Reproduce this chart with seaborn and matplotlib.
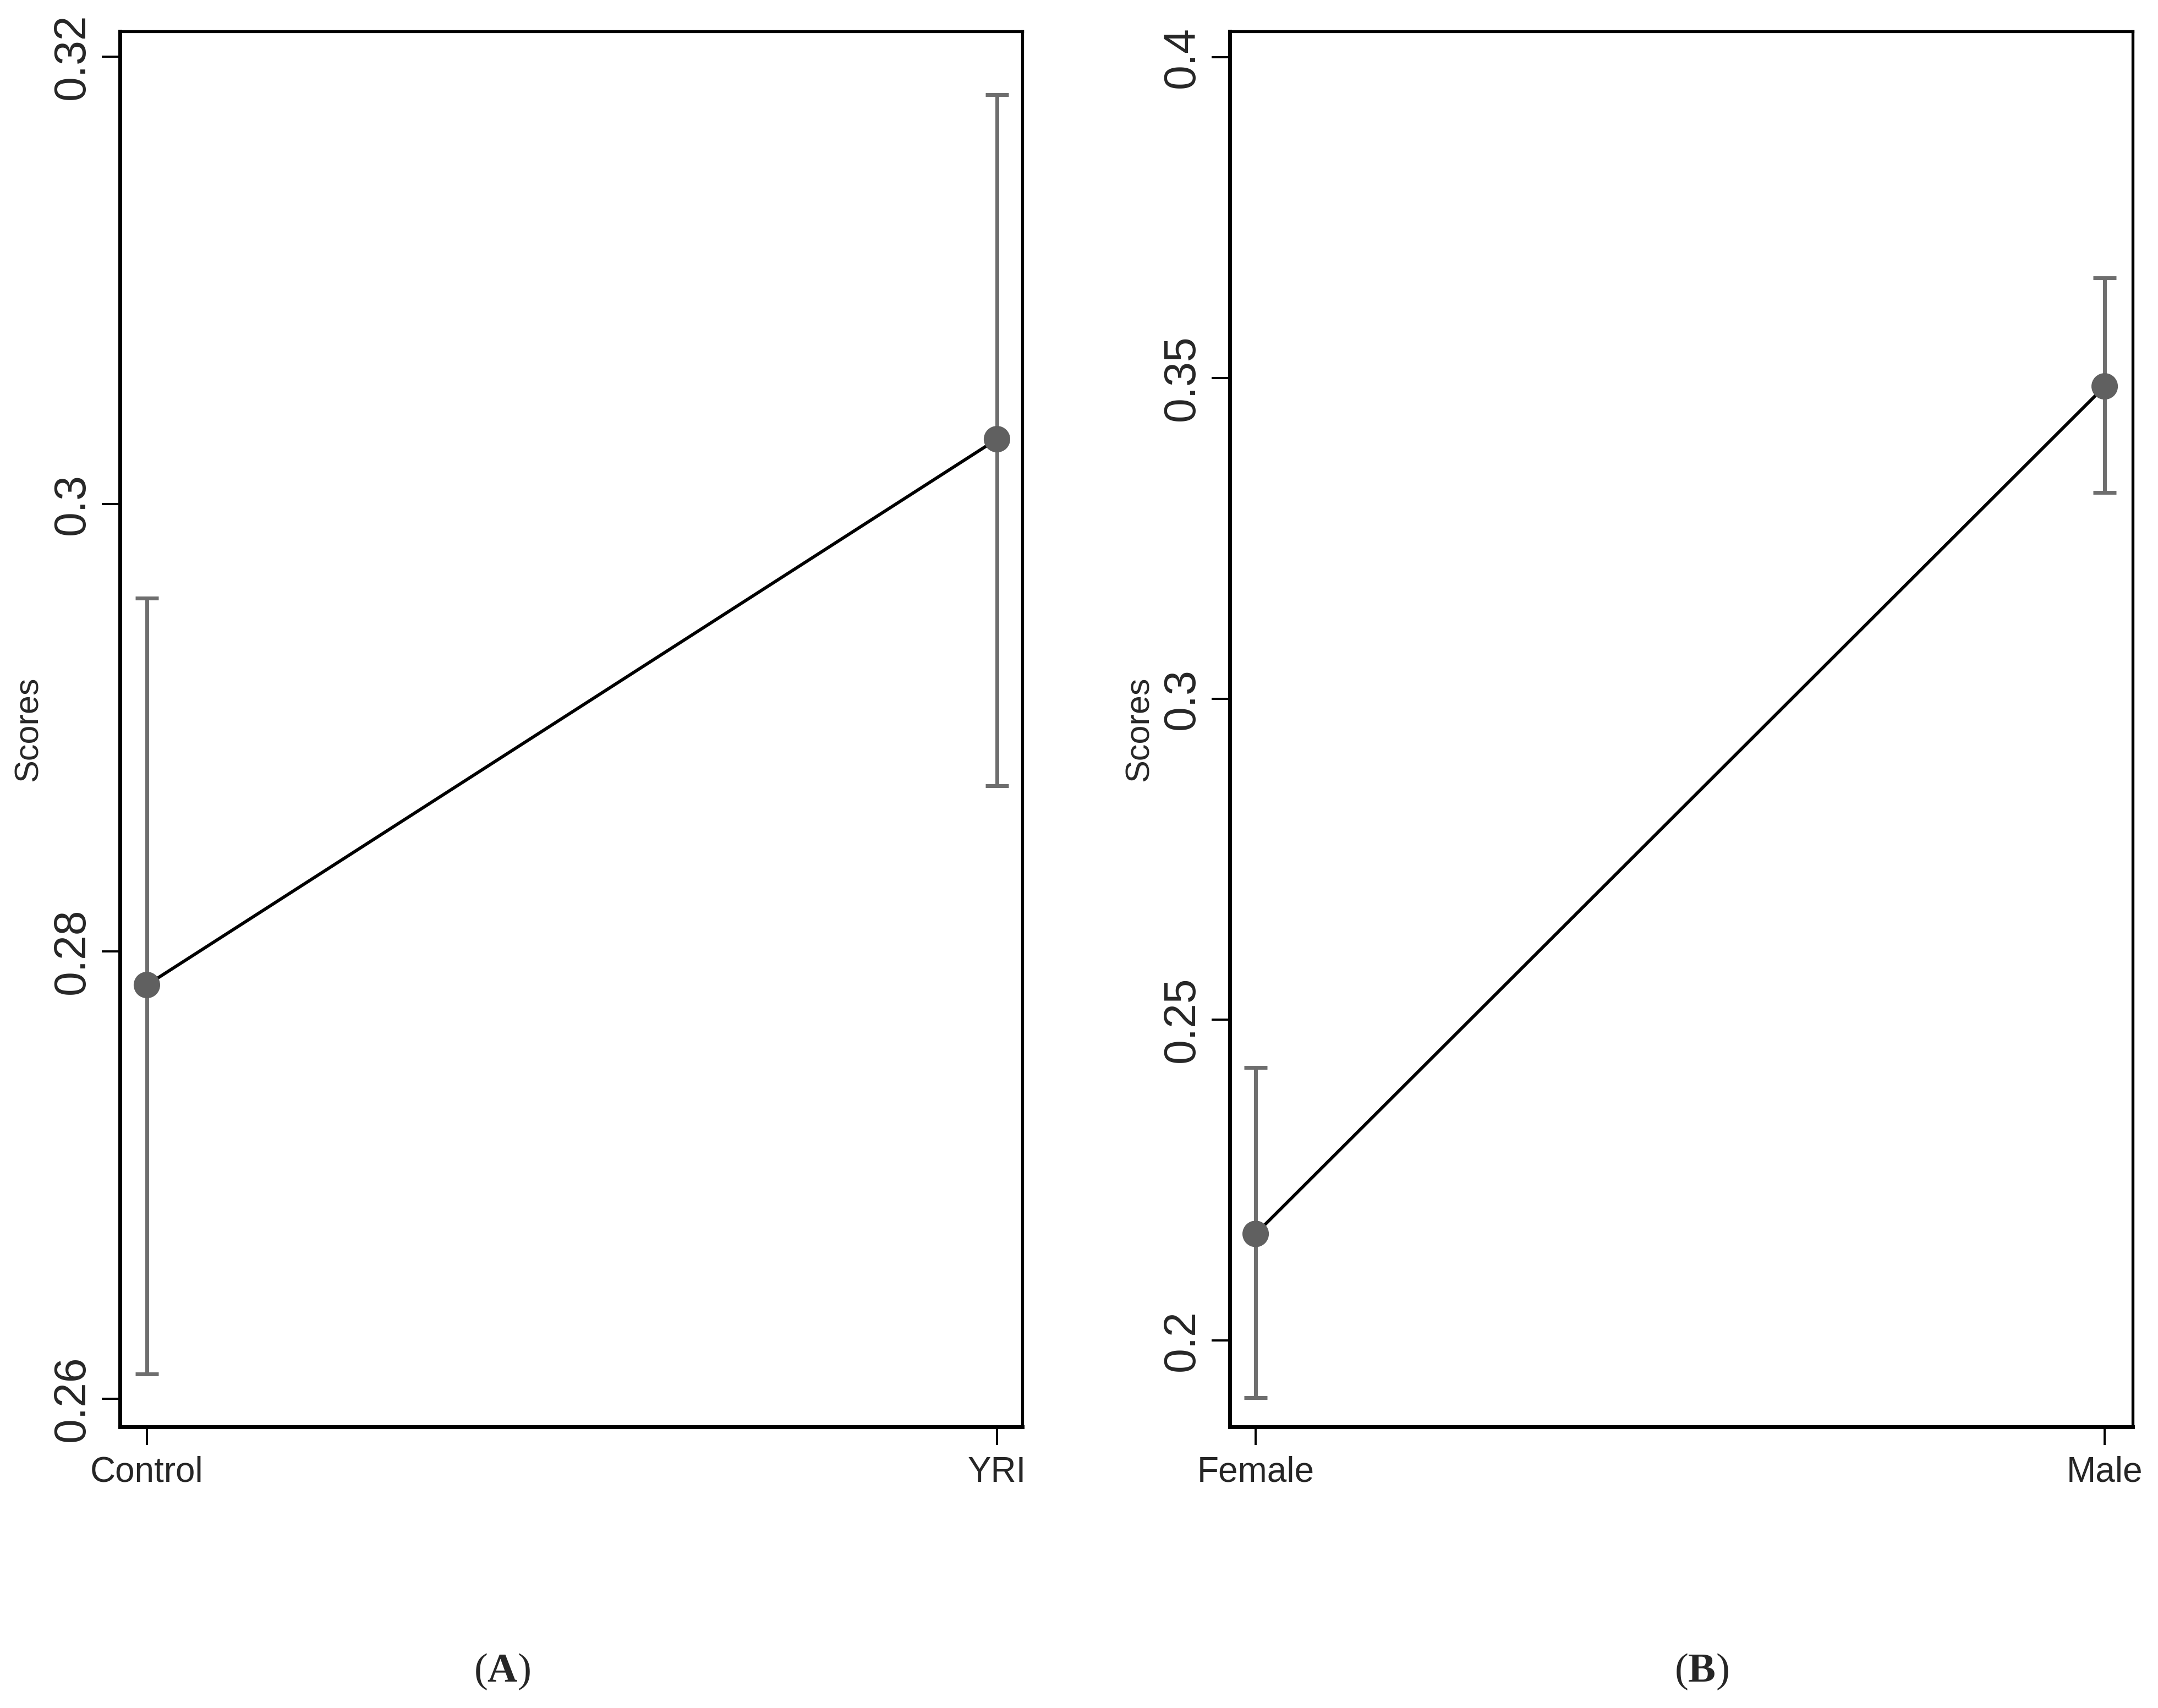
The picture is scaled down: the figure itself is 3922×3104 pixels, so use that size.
import matplotlib
matplotlib.use("Agg")
import matplotlib.pyplot as plt
import seaborn as sns
import pandas as pd

# ---- data ----
groups_a = ["Control", "YRI"]
mean_a = [0.2785, 0.3029]
lo_a = [0.2611, 0.2874]
hi_a = [0.2958, 0.3183]
yticks_a = [0.26, 0.28, 0.30, 0.32]
yticklabels_a = ["0.26", "0.28", "0.3", "0.32"]

groups_b = ["Female", "Male"]
mean_b = [0.2166, 0.3487]
lo_b = [0.1911, 0.3322]
hi_b = [0.2425, 0.3656]
yticks_b = [0.20, 0.25, 0.30, 0.35, 0.40]
yticklabels_b = ["0.2", "0.25", "0.3", "0.35", "0.4"]

panel_labels = ["A", "B"]

sns.set_theme(style="white")
plt.rcParams["font.family"] = ["Liberation Sans", "DejaVu Sans"]
plt.rcParams["mathtext.fontset"] = "custom"
plt.rcParams["mathtext.bf"] = "Liberation Serif:bold"
plt.rcParams["mathtext.rm"] = "Liberation Serif"

W, H = 3922, 3104
DPI = 100
fig = plt.figure(figsize=(W / DPI, H / DPI), dpi=DPI)
fig.patch.set_facecolor("white")

marker_col = "#606060"
err_col = "#6e6e6e"


def draw(ax, groups, mean, lo, hi, yticks, ylabels, ylim, xlim, ylab_x):
    df = pd.DataFrame({"group": groups, "mean": mean, "lo": lo, "hi": hi})
    sns.lineplot(data=df, x="group", y="mean", color="black", lw=4.2, sort=False,
                 ax=ax, zorder=2)
    ax.errorbar(df["group"], df["mean"],
                yerr=[df["mean"] - df["lo"], df["hi"] - df["mean"]],
                fmt="none", ecolor=err_col, elinewidth=5.0, capsize=15,
                capthick=5.0, zorder=3)
    sns.scatterplot(data=df, x="group", y="mean", color=marker_col, s=1200,
                    edgecolor="none", linewidth=0, ax=ax, zorder=4)
    ax.set_xlim(*xlim)
    ax.set_ylim(*ylim)
    ax.set_yticks(yticks)
    ax.set_yticklabels(ylabels)
    ax.set_xlabel("")
    ax.set_ylabel("Scores", fontsize=44)
    ax.yaxis.set_label_coords(ylab_x, 0.5)
    for t in ax.get_yticklabels():
        t.set_rotation(90)
        t.set_va("center")
    ax.tick_params(axis="y", labelsize=58, length=24, width=2.8, pad=11,
                   direction="out", left=True, color="black")
    ax.tick_params(axis="x", labelsize=46, length=24, width=2.8, pad=14,
                   direction="out", bottom=True, color="black")
    for side in ["left", "bottom"]:
        ax.spines[side].set_linewidth(5.0)
        ax.spines[side].set_color("black")
    for side in ["top", "right"]:
        ax.spines[side].set_linewidth(3.8)
        ax.spines[side].set_color("black")
    ax.grid(False)


top, bot = 57, 2593
ax1 = fig.add_axes([218 / W, 1 - bot / H, (1858 - 218) / W, (bot - top) / H])
draw(ax1, groups_a, mean_a, lo_a, hi_a, yticks_a, yticklabels_a,
     (0.25875, 0.32113), (-0.0317, 1.0298), -0.0835)

ax2 = fig.add_axes([2235 / W, 1 - bot / H, (3876 - 2235) / W, (bot - top) / H])
draw(ax2, groups_b, mean_b, lo_b, hi_b, yticks_b, yticklabels_b,
     (0.18653, 0.40403), (-0.0305, 1.033), -0.0823)

for xpix, lab in zip([912, 3092], panel_labels):
    fig.text(xpix / W, 1 - 3038 / H, r"$\mathrm{(}\mathbf{" + lab + r"}\mathrm{)}$",
             ha="center", va="center", fontsize=54)

fig.savefig("out.png", dpi=DPI, facecolor="white")
